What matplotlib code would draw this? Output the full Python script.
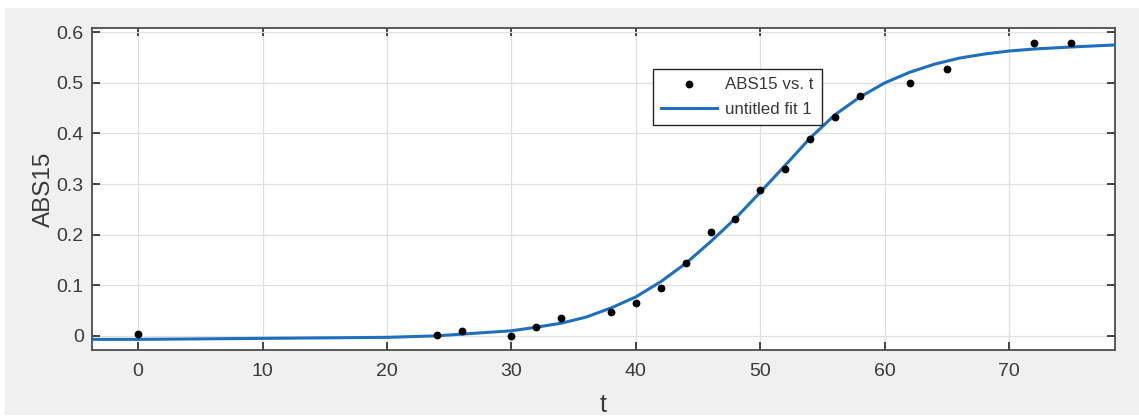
import matplotlib
matplotlib.use("Agg")
import matplotlib.pyplot as plt
from matplotlib.patches import Rectangle
from matplotlib.lines import Line2D

# ---- data ----
t_data = [0, 24, 26, 30, 32, 34, 38, 40, 42, 44, 46, 48, 50, 52, 54, 56, 58, 62, 65, 72, 75]
abs15_data = [0.003, 0.001, 0.009, -0.001, 0.018, 0.036, 0.047, 0.064, 0.095, 0.143, 0.206,
              0.230, 0.289, 0.330, 0.389, 0.433, 0.475, 0.499, 0.527, 0.578, 0.578]

fit_t = [-3.7, 0, 5, 10, 15, 20, 24, 27, 30, 32, 34, 36, 38, 40, 42, 44, 46, 48, 50,
         52, 54, 56, 58, 60, 62, 64, 66, 68, 70, 72, 75, 78.5]
fit_y = [-0.007, -0.007, -0.006, -0.005, -0.004, -0.003, 0.000, 0.005, 0.010, 0.017, 0.025,
         0.037, 0.055, 0.077, 0.107, 0.143, 0.186, 0.232, 0.284, 0.337, 0.391, 0.437, 0.472,
         0.500, 0.521, 0.537, 0.549, 0.557, 0.563, 0.567, 0.571, 0.575]

x_ticks = [0, 10, 20, 30, 40, 50, 60, 70]
y_ticks = [0, 0.1, 0.2, 0.3, 0.4, 0.5, 0.6]
y_ticklabels = ["0", "0.1", "0.2", "0.3", "0.4", "0.5", "0.6"]
legend_labels = ["ABS15 vs. t", "untitled fit 1"]
x_label = "t"
y_label = "ABS15"

# ---- styling ----
FONT = ["Liberation Sans", "DejaVu Sans"]
TXT = "#3a3a3a"
BLUE = "#1f6fbf"

fig = plt.figure(figsize=(11.39, 4.18), dpi=100, facecolor="white")
W, H = 1139, 418
fig.patches.append(Rectangle((5 / W, 3 / H), 1 - 5 / W, (415 - 8) / H,
                             transform=fig.transFigure, facecolor="#f0f0f0",
                             edgecolor="none", zorder=-10))

ax = fig.add_axes([92 / W, 1 - 350 / H, (1115 - 92) / W, (350 - 28) / H])
ax.set_facecolor("white")

ax.plot(fit_t, fit_y, color=BLUE, lw=2.2, zorder=3, solid_capstyle="butt")
ax.plot(t_data, abs15_data, linestyle="none", marker="o", markersize=4.6,
        color="black", zorder=4)

ax.set_xlim(-3.7, 78.5)
ax.set_ylim(-0.028, 0.6085)
ax.set_xticks(x_ticks)
ax.set_yticks(y_ticks)
ax.set_xticklabels([str(v) for v in x_ticks], family=FONT, fontsize=14, color=TXT)
ax.set_yticklabels(y_ticklabels, family=FONT, fontsize=14, color=TXT)

ax.tick_params(direction="in", length=6, width=1.2, top=True, right=True,
               colors="#262626", labelcolor=TXT, pad=6)
ax.tick_params(axis="x", pad=9)

ax.grid(True, color="#e0e0e0", linewidth=0.9)
ax.set_axisbelow(True)
for s in ax.spines.values():
    s.set_color("#4d4d4d")
    s.set_linewidth(1.3)

ax.set_xlabel(x_label, family=FONT, fontsize=18, color=TXT, labelpad=10)
ax.set_ylabel(y_label, family=FONT, fontsize=17.5, color=TXT, labelpad=1)

handles = [Line2D([], [], linestyle="none", marker="o", markersize=4.6, color="black"),
           Line2D([], [], color=BLUE, lw=2.2)]
leg = ax.legend(handles, legend_labels, loc="upper left",
                bbox_to_anchor=((652.7 - 92) / (1115 - 92), 1 - (69 - 28) / (350 - 28)),
                prop={"family": FONT, "size": 12.2}, frameon=True, fancybox=False,
                edgecolor="#262626", framealpha=1, borderpad=0.5, handlelength=3.3,
                handletextpad=0.45, labelspacing=0.55, borderaxespad=0)
leg.get_frame().set_linewidth(1.0)
for txt in leg.get_texts():
    txt.set_color(TXT)

fig.savefig("out.png", dpi=100, facecolor=fig.get_facecolor())
